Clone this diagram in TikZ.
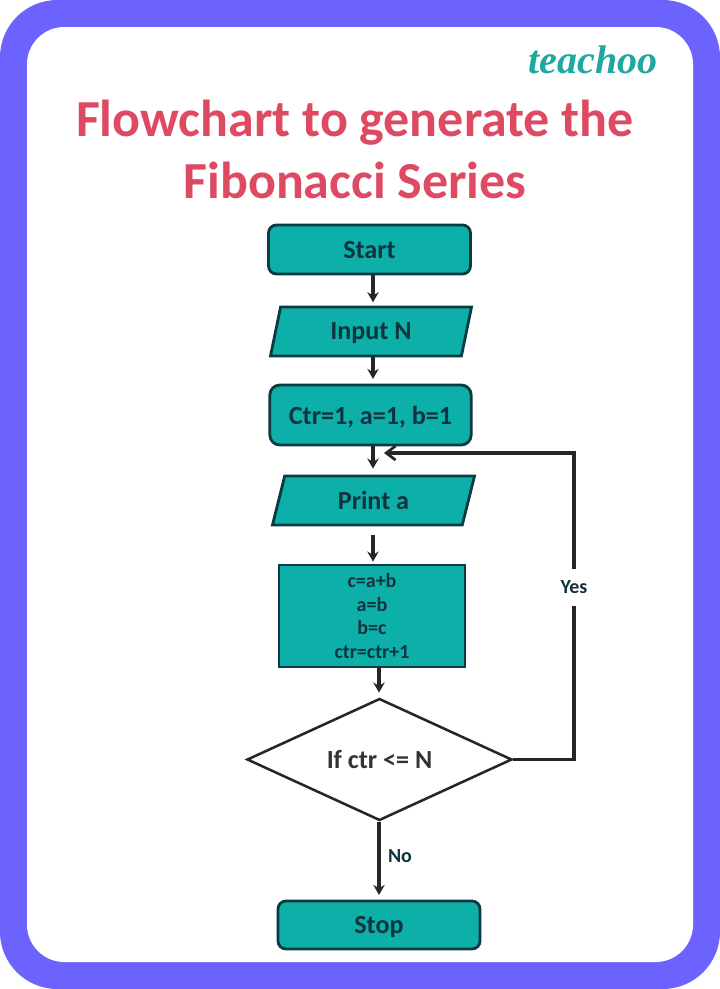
\documentclass[tikz,border=0pt]{standalone}
\usepackage{fontspec}
\setmainfont{Carlito}
\newfontfamily\logofont{Liberation Serif}
\usetikzlibrary{shapes.geometric,arrows.meta}
\definecolor{framec}{HTML}{6C63FF}
\definecolor{tealc}{HTML}{0DAFA9}
\definecolor{inkc}{HTML}{10343F}
\definecolor{titlec}{HTML}{DF4A63}
\definecolor{logoc}{HTML}{1FA89F}
\definecolor{edgec}{HTML}{0B3A40}
\tikzset{
  x=0.75pt,y=-0.75pt,
  boxtext/.style={text=inkc,font=\fontsize{19.6}{22}\selectfont\bfseries,inner sep=0pt,align=center},
  roundbox/.style={boxtext,text depth=0pt,draw=edgec,fill=tealc,line width=2.1pt,rounded corners=6pt},
  paralbox/.style={boxtext,text depth=0pt,draw=edgec,fill=tealc,line width=2.1pt,trapezium,trapezium left angle=75,trapezium right angle=105,trapezium stretches=true,minimum height=36.75pt,minimum width=151.5pt},
  flow/.style={draw=black!85,line width=2.6pt,-{Stealth[length=7.5pt,width=8.5pt]}},
  flowline/.style={draw=black!85,line width=2.4pt},
  back/.style={draw=black!85,line width=2.4pt,-{Straight Barb[length=7pt,width=10.5pt,line width=2pt]}},
  lab/.style={text=inkc,font=\fontsize{15}{17}\selectfont\bfseries,inner sep=0pt},
}
\begin{document}
\begin{tikzpicture}
\useasboundingbox (0,0) rectangle (720,989);
\fill[white] (0,0) rectangle (720,989);
\fill[framec,rounded corners=43pt] (0,0) rectangle (720,989);
\fill[white,rounded corners=28pt] (27,27) rectangle (693,962);

\node[inner sep=0pt,text=titlec,align=center,font=\fontsize{39}{46.5}\selectfont\bfseries] (title) at (355,149)
  {Flowchart to generate the\\Fibonacci Series};
\node[inner sep=0pt,text=logoc,font=\logofont\fontsize{30}{32}\selectfont\bfseries\itshape] (logo) at (593,60) {teachoo};

\coordinate (xa) at (373,0);
\coordinate (xb) at (379,0);
\coordinate (gapa) at (373,535);
\coordinate (loopend) at (384,453);

\node[roundbox,minimum width=151.5pt,minimum height=36.75pt] (start) at (369.5,249.5) {Start};
\node[paralbox] (input) at (371,331.5) {Input N};
\node[roundbox,minimum width=151pt,minimum height=45pt,rounded corners=7.5pt] (init) at (370.5,415) {Ctr=1, a=1, b=1};
\node[paralbox,minimum width=152pt] (print) at (373.5,500.5) {Print a};
\node[boxtext,draw=edgec,fill=tealc,line width=2.1pt,minimum width=139.5pt,minimum height=76.5pt,font=\fontsize{15}{17.6}\selectfont\bfseries] (proc) at (372,616) {c=a+b\\a=b\\b=c\\ctr=ctr+1};
\node[boxtext,diamond,aspect=2.17,draw=black!85,fill=white,line width=1.9pt,minimum width=198.75pt,minimum height=91.5pt,text=black!80] (dec) at (379.5,759.5) {\fontsize{19.6}{22}\selectfont\bfseries If ctr <= N};
\node[roundbox,minimum width=151.5pt,minimum height=36pt] (stop) at (379,925) {Stop};
\node[lab,minimum height=27.75pt,minimum width=1pt] (yes) at (574,587.5) {Yes};
\node[lab] (no) at (400,856) {No};

\draw[flow] (start.south -| xa) -- ([yshift=2.5pt]input.north -| xa);
\draw[flow] (input.south -| xa) -- ([yshift=3.5pt]init.north -| xa);
\draw[flow] (init.south -| xa) -- ([yshift=4.5pt]print.north -| xa);
\draw[flow] (gapa) -- ([yshift=1.5pt]proc.north -| xa);
\draw[flow] (proc.south -| xb) -- ([yshift=3.5pt]dec.north -| xb);
\draw[flow] (dec.south -| xb) -- ([yshift=3.5pt]stop.north -| xb);
\draw[flowline] (dec.east) -| (yes.south);
\draw[back] (yes.north) |- (loopend);
\end{tikzpicture}
\end{document}
